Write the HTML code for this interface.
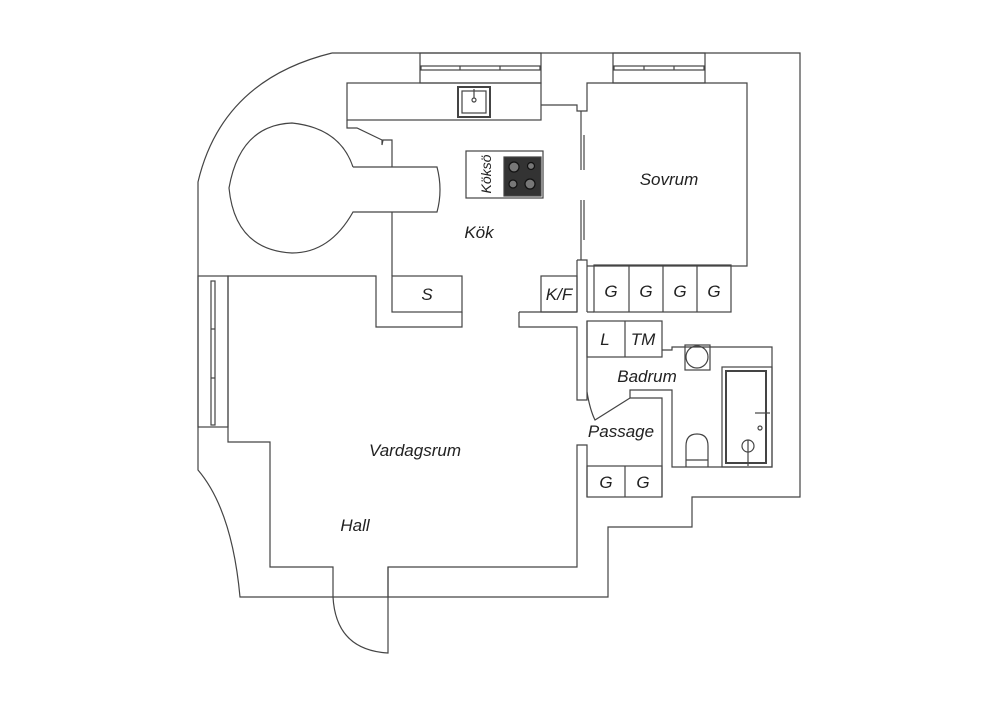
<!DOCTYPE html>
<html><head><meta charset="utf-8"><style>
html,body{margin:0;padding:0;background:#fff}
svg{display:block}
text{font-family:"Liberation Sans",sans-serif;font-style:italic;fill:#222}
</style></head><body>
<svg width="1000" height="707" viewBox="0 0 1000 707" xmlns="http://www.w3.org/2000/svg">
<g fill="none" stroke="#444" stroke-width="1.2">
<!-- outer wall -->
<path d="M332,53 L800,53 L800,497 L692,497 L692,527 L608,527 L608,597 L240,597 Q232,510 198,470 L198,182 Q222,80 332,53"/>
<!-- top windows -->
<rect x="420" y="53" width="121" height="30"/>
<rect x="421" y="66" width="119" height="4"/>
<line x1="460" y1="66" x2="460" y2="70"/><line x1="500" y1="66" x2="500" y2="70"/>
<rect x="613" y="53" width="92" height="30"/>
<rect x="614" y="66" width="90" height="4"/>
<line x1="644" y1="66" x2="644" y2="70"/><line x1="674" y1="66" x2="674" y2="70"/>
<!-- left window -->
<rect x="198" y="276" width="30" height="151"/>
<rect x="211" y="281" width="4" height="144"/>
<line x1="211" y1="329" x2="215" y2="329"/><line x1="211" y1="378" x2="215" y2="378"/>
<!-- kitchen counter -->
<rect x="347" y="83" width="194" height="37"/>
<rect x="458" y="87" width="32" height="30" stroke-width="2"/>
<rect x="462" y="91" width="24" height="22"/>
<circle cx="474" cy="100" r="2"/><line x1="474" y1="89" x2="474" y2="98"/>
<path d="M347,120 L347,128 L357,128 L382,140 L382,145 L383,140 L392,140 L392,167"/>
<path d="M392,212 L392,276"/>
<!-- table -->
<path d="M353,167 L437,167 Q443,190 437,212 L353,212 Q330,253 292,253 Q235,250 229,188 Q240,125 292,123 Q340,128 353,167"/>
<!-- kitchen right wall -->
<path d="M541,105 L577,105 L577,111 L587,111 L587,83 L747,83 L747,266 L587,266"/>
<line x1="581" y1="111" x2="581" y2="170"/><line x1="584" y1="135" x2="584" y2="170"/>
<line x1="581" y1="200" x2="581" y2="260"/><line x1="584" y1="200" x2="584" y2="240"/>
<path d="M577,260 L587,260 L587,312 M577,260 L577,312"/>
<!-- island -->
<rect x="466" y="151" width="77" height="47"/>
<rect x="504" y="157" width="37" height="39" fill="#333"/>
<g fill="#777" stroke="#111"><circle cx="514" cy="167" r="5"/><circle cx="531" cy="166" r="3.5"/><circle cx="513" cy="184" r="4"/><circle cx="530" cy="184" r="5"/></g>
<!-- S box and living room -->
<rect x="392" y="276" width="70" height="36"/>
<path d="M462,312 L462,327 L376,327 L376,276 L228,276 L228,442 L270,442 L270,567 L333,567 L333,597 M388,597 L388,567 L577,567 L577,445 L587,445 L587,497"/>
<path d="M388,567 L388,653 Q336,650 333,597"/>
<path d="M519,312 L519,327 L577,327 L577,400 L587,400 L587,321"/>
<rect x="541" y="276" width="36" height="36"/>
<!-- G boxes -->
<rect x="594" y="265" width="137" height="47"/>
<line x1="629" y1="265" x2="629" y2="312"/><line x1="663" y1="265" x2="663" y2="312"/><line x1="697" y1="265" x2="697" y2="312"/>
<path d="M519,312 L577,312 M587,312 L594,312"/>
<!-- L TM -->
<rect x="587" y="321" width="75" height="36"/>
<line x1="625" y1="321" x2="625" y2="357"/>
<path d="M662,350 L672,350 L672,347 L772,347 L772,467 L672,467 L672,390 L630,390 L630,398 L662,398 L662,497"/>
<path d="M587,392 Q590,410 595,420 L630,398"/>
<rect x="587" y="466" width="75" height="31"/>
<line x1="625" y1="466" x2="625" y2="497"/>
<!-- bath fixtures -->
<rect x="685" y="345" width="25" height="25"/>
<circle cx="697" cy="357" r="11"/>
<rect x="722" y="367" width="50" height="100"/>
<rect x="726" y="371" width="40" height="92" stroke-width="2"/>
<line x1="755" y1="413" x2="770" y2="413"/><circle cx="760" cy="428" r="2"/>
<path d="M686,467 L686,446 Q686,434 697,434 Q708,434 708,446 L708,467 M686,460 L708,460"/>
<circle cx="748" cy="446" r="6"/><line x1="748" y1="440" x2="748" y2="466"/>
</g>
<text x="669" y="185" font-size="17" text-anchor="middle">Sovrum</text>
<text x="479" y="238" font-size="17" text-anchor="middle">Kök</text>
<text x="415" y="456" font-size="17" text-anchor="middle">Vardagsrum</text>
<text x="355" y="531" font-size="17" text-anchor="middle">Hall</text>
<text x="647" y="382" font-size="17" text-anchor="middle">Badrum</text>
<text x="621" y="437" font-size="17" text-anchor="middle">Passage</text>
<text x="427" y="300" font-size="17" text-anchor="middle">S</text>
<text x="559" y="300" font-size="17" text-anchor="middle">K/F</text>
<text x="611" y="297" font-size="17" text-anchor="middle">G</text>
<text x="646" y="297" font-size="17" text-anchor="middle">G</text>
<text x="680" y="297" font-size="17" text-anchor="middle">G</text>
<text x="714" y="297" font-size="17" text-anchor="middle">G</text>
<text x="605" y="345" font-size="17" text-anchor="middle">L</text>
<text x="643" y="345" font-size="17" text-anchor="middle">TM</text>
<text x="606" y="488" font-size="17" text-anchor="middle">G</text>
<text x="643" y="488" font-size="17" text-anchor="middle">G</text>
<text x="0" y="0" font-size="14" text-anchor="middle" transform="translate(491,174) rotate(-90)">Köksö</text>
</svg>
</body></html>
